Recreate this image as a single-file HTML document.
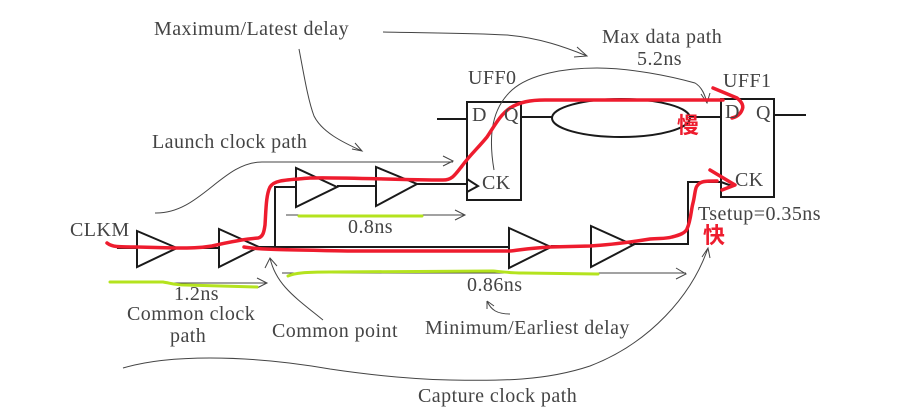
<!DOCTYPE html>
<html><head><meta charset="utf-8"><style>
html,body{margin:0;padding:0;background:#fff;width:909px;height:419px;overflow:hidden}
svg{display:block;filter:blur(0.35px)}
text{font-family:"Liberation Serif",serif;font-size:20px;fill:#444;letter-spacing:.45px}
.k{fill:none;stroke:#1a1a1a;stroke-width:2}
.g{fill:none;stroke:#444;stroke-width:1}
.r{fill:none;stroke:#ee1c2e;stroke-width:3.5;stroke-linecap:round;stroke-linejoin:round}
.l{fill:none;stroke:#b4e31e;stroke-width:3;stroke-linecap:round}
.c{font-family:"Liberation Sans","Noto Sans CJK SC",sans-serif;font-size:22px;font-weight:700;fill:#ee1c2e;letter-spacing:0}
</style></head><body>
<svg width="909" height="419" viewBox="0 0 909 419" xmlns="http://www.w3.org/2000/svg">
<g class="k">
<polygon points="137,231 137,267 177,248"/>
<polygon points="219,229 219,267 259,247"/>
<polygon points="296,168 296,207 337,187"/>
<polygon points="376,167 376,206 417,184"/>
<polygon points="509,228 509,268 551,247"/>
<polygon points="591,226 591,267 633,245"/>
<path d="M117,248H137M177,248H219M259,247H509M275,247V187H296M337,186H376M417,184H467M551,246H591M633,244H688V182H721"/>
<rect x="467" y="102" width="54" height="98"/>
<path d="M467,179L478,186L467,192"/>
<path d="M437,119H467M521,117H552M690,117H721"/>
<ellipse cx="621" cy="118" rx="69" ry="19"/>
<rect x="721" y="99" width="53" height="98"/>
<path d="M721,182L732,186L721,190M774,115H806"/>
</g>
<g class="g">
<path d="M299,49C304,75 308,100 314,116C322,132 342,142 362,151M352,149L362,151L355,143"/>
<path d="M383,32C430,33 470,33 507,35C540,38 565,47 587,56M577,47L587,56L574,57"/>
<path d="M155,213C200,214 222,162 262,162H453M443,156L453,161L443,166"/>
<path d="M494,170C488,135 492,108 512,90C530,74 565,68 597,68C630,68 670,76 695,83C702,87 705,95 707,103M701,94L707,103L710,93"/>
<path d="M286,215H465M455,210L465,215L455,220"/>
<path d="M163,283H267M257,278L267,283L257,288"/>
<path d="M282,273H686M676,268L686,274L676,279"/>
<path d="M323,320C296,298 276,285 270,258M265,268L270,258L277,266"/>
<path d="M510,314C497,314 491,310 487,301M487,301L487,309M487,301L494,306"/>
<path d="M123,368C150,360 180,358 210,358C250,358 290,362 330,369C370,375 410,379 450,380C500,381 545,381 590,366C650,343 692,295 708,248M702,257L708,248L710,258"/>
</g>
<path class="l" d="M110,282H163C170,283 175,285 185,285L257,287"/>
<path class="l" d="M299,216H422"/>
<path class="l" d="M288,276C295,273 305,272 330,272L493,271C505,272 510,273 523,273L598,274"/>
<path class="r" d="M107,243C112,247 118,247 137,247L175,248C190,248 200,248 212,246C225,243 245,239 258,238C263,237 264,232 265,225C266,210 266,195 270,187C274,180 285,180 310,178C340,177 400,180 443,180C452,180 455,175 462,166C470,155 478,148 487,137C495,125 500,115 510,108C520,102 530,100 545,100H723"/>
<path class="r" d="M713,88L737,98C742,102 744,106 742,110C740,115 736,117 732,118"/>
<path class="r" d="M244,247C260,250 300,250 350,251L510,251C520,250 530,248 550,247L590,246C610,245 625,243 650,239C660,238 665,239 672,237C680,235 685,233 687,229C691,220 691,210 693,203C695,195 695,188 697,186C700,181 705,181 717,181"/>
<path class="r" d="M710,170L735,185L722,190"/>
<text x="154" y="35">Maximum/Latest delay</text>
<text x="602" y="43">Max data path</text>
<text x="637" y="65">5.2ns</text>
<text x="468" y="84">UFF0</text>
<text x="723" y="87">UFF1</text>
<text x="472" y="121">D</text>
<text x="504" y="121">Q</text>
<text x="725" y="118">D</text>
<text x="756" y="119">Q</text>
<text x="482" y="189">CK</text>
<text x="735" y="186">CK</text>
<text x="152" y="148">Launch clock path</text>
<text x="70" y="236">CLKM</text>
<text x="348" y="233">0.8ns</text>
<text x="698" y="220">Tsetup=0.35ns</text>
<text x="174" y="300">1.2ns</text>
<text x="467" y="291">0.86ns</text>
<text x="127" y="320">Common clock</text>
<text x="170" y="342">path</text>
<text x="272" y="337">Common point</text>
<text x="425" y="334">Minimum/Earliest delay</text>
<text x="418" y="402">Capture clock path</text>
<text class="c" x="677" y="133">慢</text>
<text class="c" x="703" y="243">快</text>
</svg>
</body></html>
